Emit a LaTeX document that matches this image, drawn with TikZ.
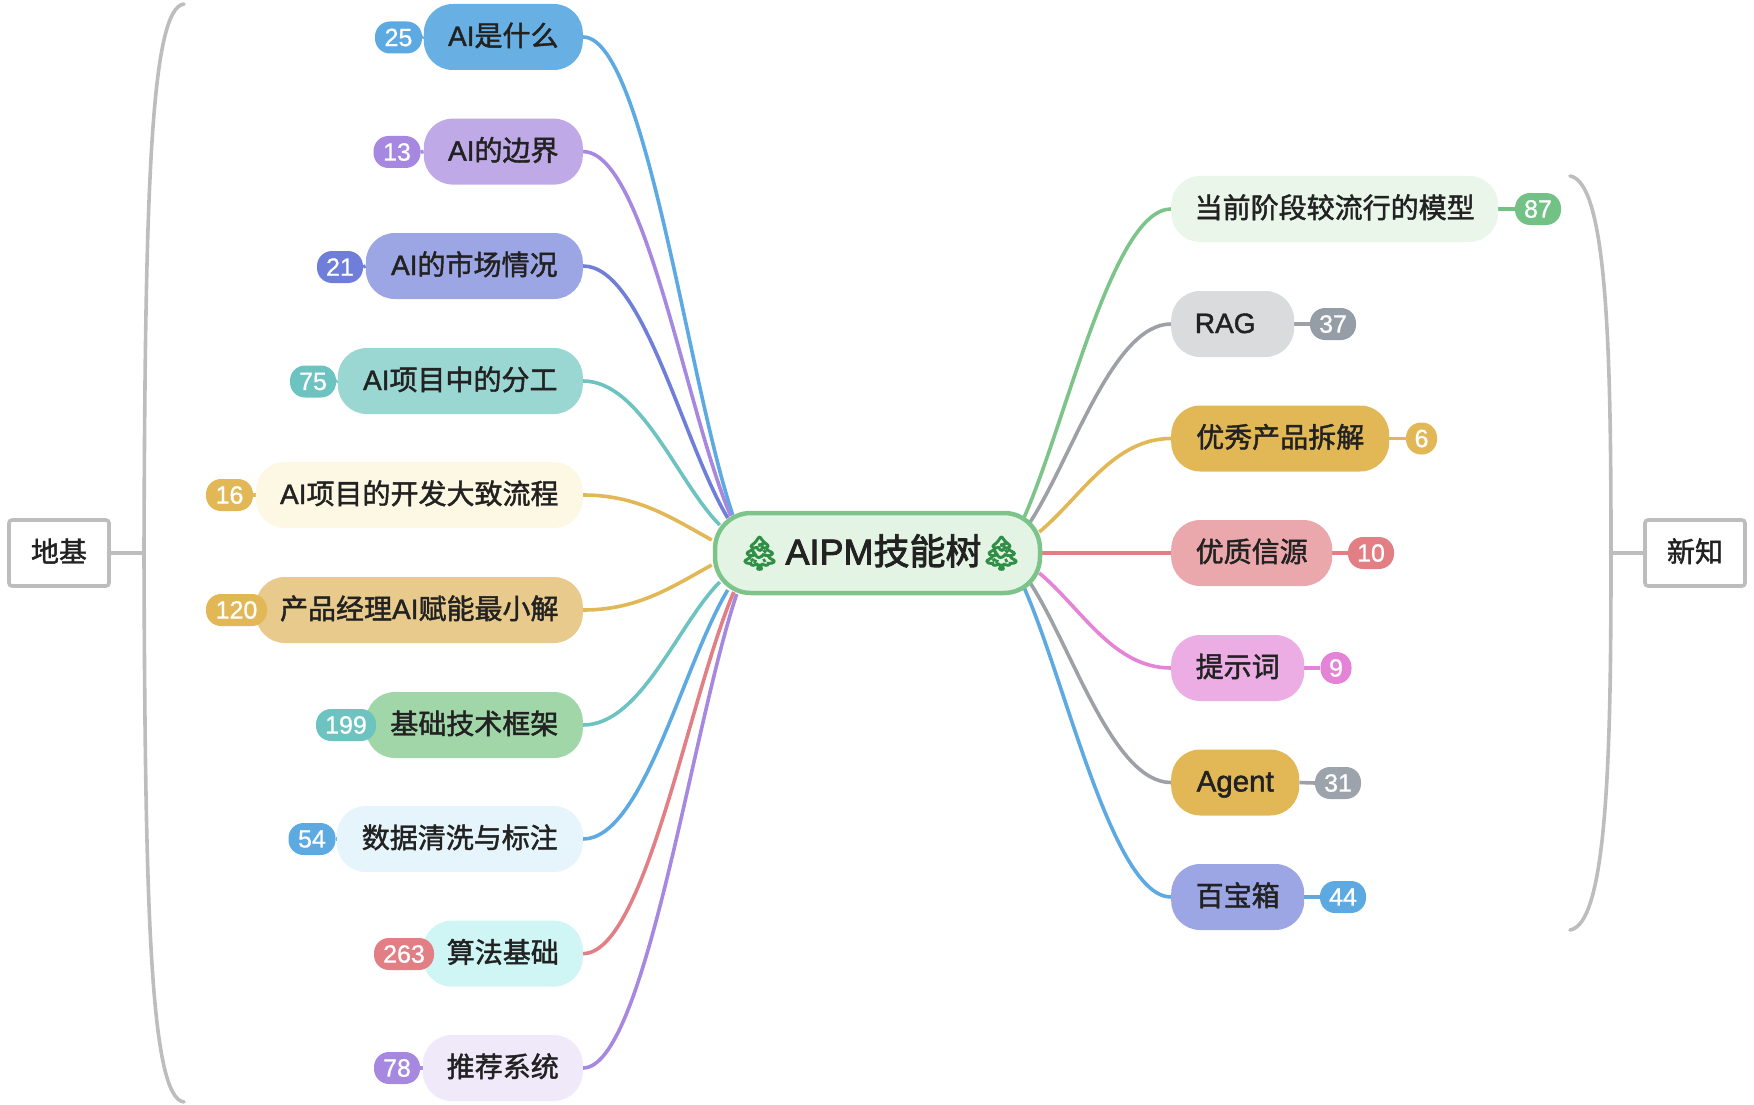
\documentclass[tikz,border=0pt]{standalone}
\usepackage{fontspec}
\usetikzlibrary{backgrounds}
\setmainfont[FakeBold=1.6]{Liberation Sans}
\newfontfamily\cjk[FakeBold=1.6]{Noto Sans CJK SC}
\newfontfamily\rootlat[FakeBold=2.4]{Liberation Sans}
\newfontfamily\rootcjk[FakeBold=2.4]{Noto Sans CJK SC}
\newfontfamily\numf[FakeBold=0.8]{Liberation Sans}
\newfontfamily\emojif[FakeBold=5]{Noto Emoji}
\definecolor{ink}{HTML}{222222}
\definecolor{cblue}{HTML}{5DAAE3}
\definecolor{cpurple}{HTML}{A688E0}
\definecolor{cindigo}{HTML}{6F7FD9}
\definecolor{cteal}{HTML}{6CC3BF}
\definecolor{cgold}{HTML}{E2B857}
\definecolor{cred}{HTML}{E27F85}
\definecolor{cgreen}{HTML}{7CC48A}
\definecolor{cgray}{HTML}{9DA0A6}
\definecolor{cpink}{HTML}{E584D6}
\definecolor{cbrace}{HTML}{BDBDBD}
\definecolor{cbgreen}{HTML}{72C185}
\definecolor{cbgrayA}{HTML}{959DA6}
\definecolor{cbgrayB}{HTML}{9CA3AB}
\definecolor{rootfill}{HTML}{E4F4E4}
\definecolor{treegreen}{HTML}{2F8F46}
\definecolor{fA}{HTML}{68B0E3}
\definecolor{fB}{HTML}{BFA9E6}
\definecolor{fC}{HTML}{9DA6E4}
\definecolor{fD}{HTML}{9AD6D2}
\definecolor{fE}{HTML}{FDF8E3}
\definecolor{fF}{HTML}{E8CB8C}
\definecolor{fG}{HTML}{A0D6A8}
\definecolor{fH}{HTML}{E6F4FC}
\definecolor{fI}{HTML}{CFF5F5}
\definecolor{fJ}{HTML}{F0E9FA}
\definecolor{fK}{HTML}{EAF6EA}
\definecolor{fL}{HTML}{D9DBDC}
\definecolor{fM}{HTML}{E2B857}
\definecolor{fN}{HTML}{EBA8AC}
\definecolor{fO}{HTML}{EBADE3}
\newcommand{\treeglyph}{{\emojif\fontsize{33}{40}\selectfont\color{treegreen}🌲}}
\tikzset{
  branch/.style={rectangle,rounded corners=29pt,minimum height=66pt,inner sep=0pt,
    text height=20pt,text depth=2pt,
    text=ink,font=\fontsize{28}{32}\selectfont,fill=#1},
  badge/.style={rectangle,rounded corners=15pt,minimum height=32pt,inner sep=0pt,
    text=white,font=\numf\fontsize{25}{30}\selectfont,fill=#1},
  wire/.style={line width=3.6pt,draw=#1},
  brace/.style={line width=3.6pt,draw=cbrace,line cap=round},
  sidebox/.style={rectangle,draw=cbrace,line width=3.6pt,rounded corners=3pt,fill=white,
    minimum width=100pt,minimum height=66pt,inner sep=0pt,text height=20pt,text depth=2pt,
    text=ink,font=\fontsize{28}{32}\selectfont},
}
\begin{document}
\begin{tikzpicture}[x=1pt,y=-1pt]
\useasboundingbox (0,0) rectangle (1754,1105);
% root
\node[rectangle,rounded corners=36pt,draw=cgreen,line width=4.5pt,fill=rootfill,
  minimum width=325pt,minimum height=80pt,inner sep=0pt,text height=26pt,text depth=3pt,
  text=ink,font=\fontsize{36}{42}\selectfont]
  (root) at (877.5,553) {\kern6pt\treeglyph\kern5pt{\rootlat AIPM}{\rootcjk 技能树}\kern-1pt\treeglyph};
% left branches
\node[branch=fA,anchor=east,minimum width=159pt] (l1) at (583,37) {AI{\cjk 是什么}};
\node[branch=fB,anchor=east,minimum width=159pt] (l2) at (583,151.6) {AI{\cjk 的边界}};
\node[branch=fC,anchor=east,minimum width=217pt] (l3) at (583,266) {AI{\cjk 的市场情况}};
\node[branch=fD,anchor=east,minimum width=245pt] (l4) at (583,381) {AI{\cjk 项目中的分工}};
\node[branch=fE,anchor=east,minimum width=327pt] (l5) at (583,495) {AI{\cjk 项目的开发大致流程}};
\node[branch=fF,anchor=east,minimum width=327pt] (l6) at (583,610) {{\cjk 产品经理}AI{\cjk 赋能最小解}};
\node[branch=fG,anchor=east,minimum width=217pt] (l7) at (583,725) {{\cjk 基础技术框架}};
\node[branch=fH,anchor=east,minimum width=246pt] (l8) at (583,839) {{\cjk 数据清洗与标注}};
\node[branch=fI,anchor=east,minimum width=160pt] (l9) at (583,953.6) {{\cjk 算法基础}};
\node[branch=fJ,anchor=east,minimum width=160pt] (l10) at (583,1068) {{\cjk 推荐系统}};
% left badges
\node[badge=cblue,minimum width=47pt] (bl1) at (398.5,37.5) {25};
\node[badge=cpurple,minimum width=47pt] (bl2) at (397,152) {13};
\node[badge=cindigo,minimum width=46pt] (bl3) at (340,267) {21};
\node[badge=cteal,minimum width=46pt] (bl4) at (313,381.5) {75};
\node[badge=cgold,minimum width=47pt] (bl5) at (229.5,495) {16};
\node[badge=cgold,minimum width=61pt] (bl6) at (236.5,610) {120};
\node[badge=cteal,minimum width=60pt] (bl7) at (346,725) {199};
\node[badge=cblue,minimum width=47pt] (bl8) at (312,839) {54};
\node[badge=cred,minimum width=60pt] (bl9) at (404,954) {263};
\node[badge=cpurple,minimum width=46pt] (bl10) at (397,1068) {78};
% right branches
\node[branch=fK,anchor=west,minimum width=327pt] (r1) at (1171,209) {{\cjk 当前阶段较流行的模型}};
\node[branch=fL,anchor=west,minimum width=123pt] (r2) at (1171,324) {RAG\kern15pt\null};
\node[branch=fM,anchor=west,minimum width=218pt] (r3) at (1171,438.5) {{\cjk 优秀产品拆解}};
\node[branch=fN,anchor=west,minimum width=161pt] (r4) at (1171,553) {{\cjk 优质信源}};
\node[branch=fO,anchor=west,minimum width=133pt] (r5) at (1171,668) {{\cjk 提示词}};
\node[branch=fM,anchor=west,minimum width=128pt,font=\fontsize{29.5}{32}\selectfont] (r6) at (1171,782.5) {Agent};
\node[branch=fC,anchor=west,minimum width=133pt] (r7) at (1171,897) {{\cjk 百宝箱}};
% right badges
\node[badge=cbgreen,minimum width=46pt] (br1) at (1538,209) {87};
\node[badge=cbgrayA,minimum width=46pt] (br2) at (1333,324) {37};
\node[badge=cgold,minimum width=31pt] (br3) at (1421.5,438.5) {6};
\node[badge=cred,minimum width=46pt] (br4) at (1371,553) {10};
\node[badge=cpink,minimum width=31pt] (br5) at (1336,668) {9};
\node[badge=cbgrayB,minimum width=46pt] (br6) at (1338,783) {31};
\node[badge=cblue,minimum width=46pt] (br7) at (1343,897) {44};
% side boxes
\node[sidebox] (base) at (59,553) {{\cjk 地基}};
\node[sidebox] (fresh) at (1695,553) {{\cjk 新知}};
\coordinate (lbtop) at (184,4);
\coordinate (lbmid) at (144,553);
\coordinate (lbbot) at (184,1102);
\coordinate (rbtop) at (1570,176);
\coordinate (rbmid) at (1611,553);
\coordinate (rbbot) at (1570,930);
\begin{scope}[on background layer]
\draw[wire=cblue]   (l1.east) .. controls +(62,0) and +(-45,-134) .. ([shift={(20,-38)}]root.west);
\draw[wire=cpurple] (l2.east) .. controls +(62,0) and +(-45,-105) .. ([shift={(18,-37)}]root.west);
\draw[wire=cindigo] (l3.east) .. controls +(60,0) and +(-45,-75) .. ([shift={(15,-35)}]root.west);
\draw[wire=cteal]   (l4.east) .. controls +(58,0) and +(-42,-42) .. ([shift={(7,-28)}]root.west);
\draw[wire=cgold]   (l5.east) .. controls +(55,0) and +(-40,-22) .. ([shift={(-1,-13)}]root.west);
\draw[wire=cgold]   (l6.east) .. controls +(55,0) and +(-40,22) .. ([shift={(-1,12)}]root.west);
\draw[wire=cteal]   (l7.east) .. controls +(58,0) and +(-42,42) .. ([shift={(7,29)}]root.west);
\draw[wire=cblue]   (l8.east) .. controls +(60,0) and +(-45,75) .. ([shift={(15,37)}]root.west);
\draw[wire=cred]    (l9.east) .. controls +(62,0) and +(-45,105) .. ([shift={(21,39)}]root.west);
\draw[wire=cpurple] (l10.east) .. controls +(62,0) and +(-45,134) .. ([shift={(24,41)}]root.west);
\draw[wire=cgreen]  (r1.west) .. controls +(-58,0) and +(42,-95) .. ([shift={(-18,-36)}]root.east);
\draw[wire=cgray]   (r2.west) .. controls +(-58,0) and +(42,-65) .. ([shift={(-12,-31)}]root.east);
\draw[wire=cgold]   (r3.west) .. controls +(-58,0) and +(42,-35) .. ([shift={(-3,-21)}]root.east);
\draw[wire=cred]    (r4.west) -- (root.east);
\draw[wire=cpink]   (r5.west) .. controls +(-58,0) and +(42,35) .. ([shift={(-3,20)}]root.east);
\draw[wire=cgray]   (r6.west) .. controls +(-58,0) and +(42,65) .. ([shift={(-12,30)}]root.east);
\draw[wire=cblue]   (r7.west) .. controls +(-58,0) and +(42,95) .. ([shift={(-18,35)}]root.east);
\draw[wire=cblue] (bl1.east) -- (l1.west);
\draw[wire=cpurple] (bl2.east) -- (l2.west);
\draw[wire=cindigo] (bl3.east) -- (l3.west);
\draw[wire=cteal] (bl4.east) -- (l4.west);
\draw[wire=cgold] (bl5.east) -- (l5.west);
\draw[wire=cgold] (bl6.east) -- (l6.west);
\draw[wire=cteal] (bl7.east) -- (l7.west);
\draw[wire=cblue] (bl8.east) -- (l8.west);
\draw[wire=cred] (bl9.east) -- (l9.west);
\draw[wire=cpurple] (bl10.east) -- (l10.west);
\draw[wire=cbgreen] (r1.east) -- (br1.west);
\draw[wire=cgray] (r2.east) -- (br2.west);
\draw[wire=cgold] (r3.east) -- (br3.west);
\draw[wire=cred] (r4.east) -- (br4.west);
\draw[wire=cpink] (r5.east) -- (br5.west);
\draw[wire=cgray] (r6.east) -- (br6.west);
\draw[wire=cblue] (r7.east) -- (br7.west);
\draw[brace] (lbtop) .. controls (150,8) and (145,200) .. (lbmid) .. controls (145,906) and (150,1098) .. (lbbot);
\draw[brace] (rbtop) .. controls (1608,182) and (1611,360) .. (rbmid) .. controls (1611,746) and (1608,924) .. (rbbot);
\draw[line width=3.6pt,draw=cbrace] (base.east) -- (lbmid);
\draw[line width=3.6pt,draw=cbrace] (fresh.west) -- (rbmid);
\end{scope}
\end{tikzpicture}
\end{document}
